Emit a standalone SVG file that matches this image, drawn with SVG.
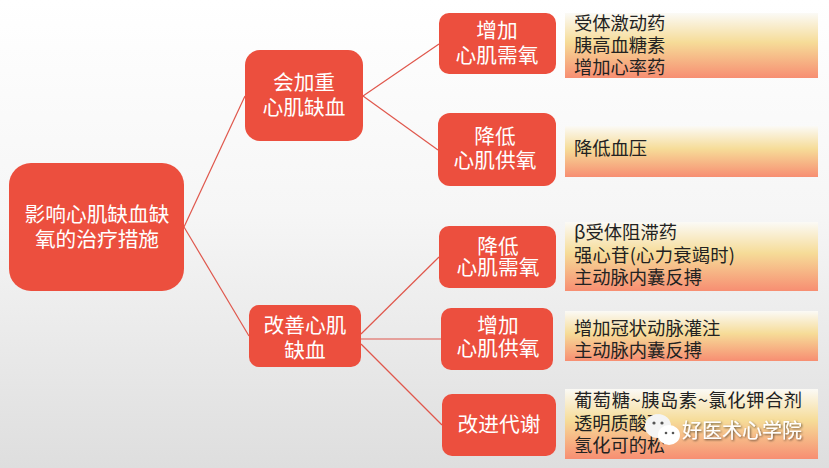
<svg xmlns="http://www.w3.org/2000/svg" width="829" height="468" viewBox="0 0 829 468">
<style>
text{font-family:"Noto Sans CJK SC","Liberation Sans",sans-serif}
.n{fill:#ec4f3e}
.t{fill:#fff;font-size:20.7px;text-anchor:middle}
.r{fill:#222;font-size:18.3px}
.p{fill:url(#pg)}
.c line{stroke:#e0574c;stroke-width:1.2}
</style>
<defs>
<linearGradient id="bg" x1="0" y1="0" x2="0" y2="1"><stop offset="0" stop-color="#ffffff"/><stop offset="0.45" stop-color="#f6f6f6"/><stop offset="1" stop-color="#dedede"/></linearGradient>
<linearGradient id="pg" x1="0" y1="0" x2="0" y2="1"><stop offset="0" stop-color="#fbfaf6"/><stop offset="0.45" stop-color="#f6dc98"/><stop offset="1" stop-color="#f78e72"/></linearGradient>
<filter id="sh" x="-10%" y="-30%" width="120%" height="160%"><feDropShadow dx="1" dy="1" stdDeviation="1" flood-color="#000" flood-opacity="0.6"/></filter>
</defs>
<rect id="background" width="829" height="468" fill="url(#bg)"/>
<g class="c" id="connectors">
<line x1="184" y1="227" x2="245" y2="96"/>
<line x1="184" y1="227" x2="249" y2="336"/>
<line x1="363" y1="96" x2="439" y2="44"/>
<line x1="363" y1="96" x2="438" y2="150"/>
<line x1="361" y1="334" x2="439" y2="257"/>
<line x1="361" y1="339" x2="441" y2="339"/>
<line x1="361" y1="344" x2="442" y2="425"/>
</g>
<g id="root"><rect class="n" x="9" y="163" width="175" height="128" rx="22"/><text class="t" x="97" y="222">影响心肌缺血缺</text><text class="t" x="97" y="247">氧的治疗措施</text></g>
<g id="n1"><rect class="n" x="245" y="50" width="118" height="91" rx="15"/><text class="t" x="304" y="90">会加重</text><text class="t" x="304" y="115">心肌缺血</text></g>
<g id="n2"><rect class="n" x="249" y="305" width="112" height="62" rx="10"/><text class="t" x="305" y="333">改善心肌</text><text class="t" x="305" y="358">缺血</text></g>
<g id="n3"><rect class="n" x="439" y="13" width="117" height="61" rx="10"/><text class="t" x="497" y="38">增加</text><text class="t" x="497" y="63">心肌需氧</text></g>
<g id="n4"><rect class="n" x="438" y="113" width="118" height="73" rx="12"/><text class="t" x="495" y="144">降低</text><text class="t" x="495" y="168">心肌供氧</text></g>
<g id="n5"><rect class="n" x="439" y="226" width="117" height="62" rx="10"/><text class="t" x="498" y="254">降低</text><text class="t" x="498" y="275">心肌需氧</text></g>
<g id="n6"><rect class="n" x="441" y="308" width="112" height="62" rx="10"/><text class="t" x="498" y="333">增加</text><text class="t" x="498" y="356">心肌供氧</text></g>
<g id="n7"><rect class="n" x="442" y="394" width="114" height="62" rx="10"/><text class="t" x="499" y="432">改进代谢</text></g>
<g id="p1"><rect class="p" x="565" y="13" width="253" height="65"/><text class="r" x="574" y="30">受体激动药</text><text class="r" x="574" y="52">胰高血糖素</text><text class="r" x="574" y="74">增加心率药</text></g>
<g id="p2"><rect class="p" x="565" y="126" width="253" height="51"/><text class="r" x="574" y="155">降低血压</text></g>
<g id="p3"><rect class="p" x="565" y="222" width="253" height="69"/><text class="r" x="574" y="239">β受体阻滞药</text><text class="r" x="574" y="262" textLength="161">强心苷(心力衰竭时)</text><text class="r" x="574" y="284">主动脉内囊反搏</text></g>
<g id="p4"><rect class="p" x="565" y="311" width="253" height="50"/><text class="r" x="574" y="335">增加冠状动脉灌注</text><text class="r" x="574" y="357">主动脉内囊反搏</text></g>
<g id="p5"><rect class="p" x="565" y="389" width="253" height="70"/><text class="r" x="574" y="407" textLength="228">葡萄糖~胰岛素~氯化钾合剂</text><text class="r" x="574" y="430">透明质酸酶</text><text class="r" x="574" y="452">氢化可的松</text></g>
<g id="watermark">
<ellipse cx="658" cy="426" rx="13" ry="12" fill="#f4f4f4"/>
<ellipse cx="669" cy="435" rx="11" ry="10" fill="#fff"/>
<circle cx="654" cy="423" r="1.6" fill="#555"/><circle cx="662" cy="423" r="1.6" fill="#555"/>
<circle cx="666" cy="433" r="1.3" fill="#555"/><circle cx="673" cy="433" r="1.3" fill="#555"/>
<text x="682" y="438" font-size="20" fill="#fff" filter="url(#sh)">好医术心学院</text>
</g>
</svg>
